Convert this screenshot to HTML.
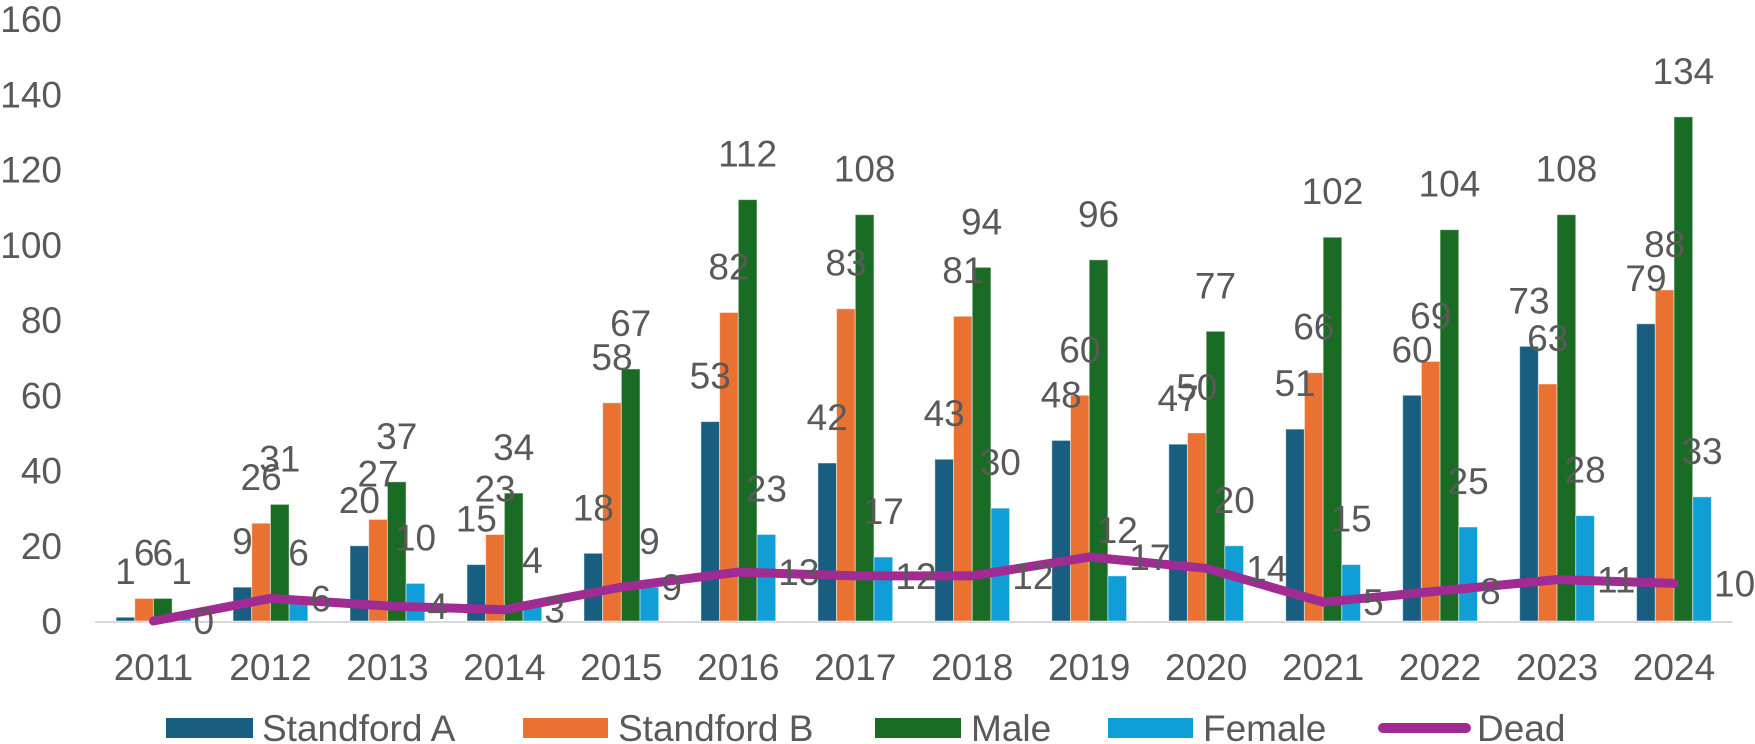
<!DOCTYPE html>
<html><head><meta charset="utf-8">
<style>
html,body{margin:0;padding:0;background:#fff;}
svg{display:block;font-family:"Liberation Sans",sans-serif;}
text{fill:#595959;font-size:37px;}
</style></head>
<body>
<svg id="chart" width="1755" height="744" viewBox="0 0 1755 744" xmlns="http://www.w3.org/2000/svg">
  <g id="yaxis"></g>
  <g id="xaxis"></g>
  <g id="bars"></g>
  <g id="line"></g>
  <g id="labels"></g>
  <g id="legend">
    <rect x="166" y="718" width="87" height="20" fill="#175e80"/>
    <text x="262" y="741">Standford A</text>
    <rect x="523" y="718" width="85" height="20" fill="#e97132"/>
    <text x="618" y="741">Standford B</text>
    <rect x="875" y="718" width="86" height="20" fill="#1a6b23"/>
    <text x="971" y="741">Male</text>
    <rect x="1108" y="718" width="85" height="20" fill="#0f9ed5"/>
    <text x="1203" y="741">Female</text>
    <line x1="1383" y1="728" x2="1466" y2="728" stroke="#a02b93" stroke-width="10" stroke-linecap="round"/>
    <text x="1477" y="741">Dead</text>
  </g>
</svg>
<script>
const categories = ["2011","2012","2013","2014","2015","2016","2017","2018","2019","2020","2021","2022","2023","2024"];
const standfordA = [1,9,20,15,18,53,42,43,48,47,51,60,73,79];
const standfordB = [6,26,27,23,58,82,83,81,60,50,66,69,63,88];
const male = [6,31,37,34,67,112,108,94,96,77,102,104,108,134];
const female = [1,6,10,4,9,23,17,30,12,20,15,25,28,33];
const dead = [0,6,4,3,9,13,12,12,17,14,5,8,11,10];
const yTicks = [0,20,40,60,80,100,120,140,160];

const NS = "http://www.w3.org/2000/svg";
const plotL = 95, plotR = 1732.5, y0 = 621, yTop = 19, yMax = 160;
const band = (plotR - plotL) / categories.length;
const barW = 18.7;
function yScale(v){ return y0 - (v / yMax) * (y0 - yTop); }
function xCenter(i){ return plotL + band * (i + 0.5); }
function mk(tag, attrs, parent){
  const e = document.createElementNS(NS, tag);
  for (const k in attrs) e.setAttribute(k, attrs[k]);
  parent.appendChild(e);
  return e;
}
const gy = document.getElementById('yaxis');
yTicks.forEach(t => {
  const tx = mk('text', {x: 62, y: yScale(t) + 13, 'text-anchor': 'end'}, gy);
  
  
  tx.textContent = t;
});
const gx = document.getElementById('xaxis');
const base = mk('line', {x1: plotL, x2: plotR, y1: y0 + 1, y2: y0 + 1, stroke: '#d9d9d9', 'stroke-width': 2}, gx);


categories.forEach((c, i) => {
  const tx = mk('text', {x: xCenter(i), y: 680, 'text-anchor': 'middle'}, gx);
  
  
  tx.textContent = c;
});
const series = [
  {name: 'standford-a', vals: standfordA, color: '#175e80'},
  {name: 'standford-b', vals: standfordB, color: '#e97132'},
  {name: 'male', vals: male, color: '#1a6b23'},
  {name: 'female', vals: female, color: '#0f9ed5'}
];
const gb = document.getElementById('bars');
const gl = document.getElementById('labels');
series.forEach((s, si) => {
  s.vals.forEach((v, i) => {
    const x = xCenter(i) - 2 * barW + si * barW;
    const r = mk('rect', {x: x, y: yScale(v), width: barW, height: y0 - yScale(v), fill: s.color, stroke: 'rgba(255,255,255,0.5)', 'stroke-width': 1}, gb);
    
    
    const t = mk('text', {x: x + barW / 2, y: yScale(v) - 33, 'text-anchor': 'middle'}, gl);
    
    
    t.textContent = v;
  });
});
const glin = document.getElementById('line');
const pts = dead.map((v, i) => xCenter(i) + ',' + yScale(v)).join(' ');
const pl = mk('polyline', {points: pts, fill: 'none', stroke: '#a02b93', 'stroke-width': 9, 'stroke-linecap': 'round', 'stroke-linejoin': 'round'}, glin);


dead.forEach((v, i) => {
  const t = mk('text', {x: xCenter(i) + 40, y: yScale(v) + 13}, gl);
  
  
  t.textContent = v;
});
</script>
</body></html>
